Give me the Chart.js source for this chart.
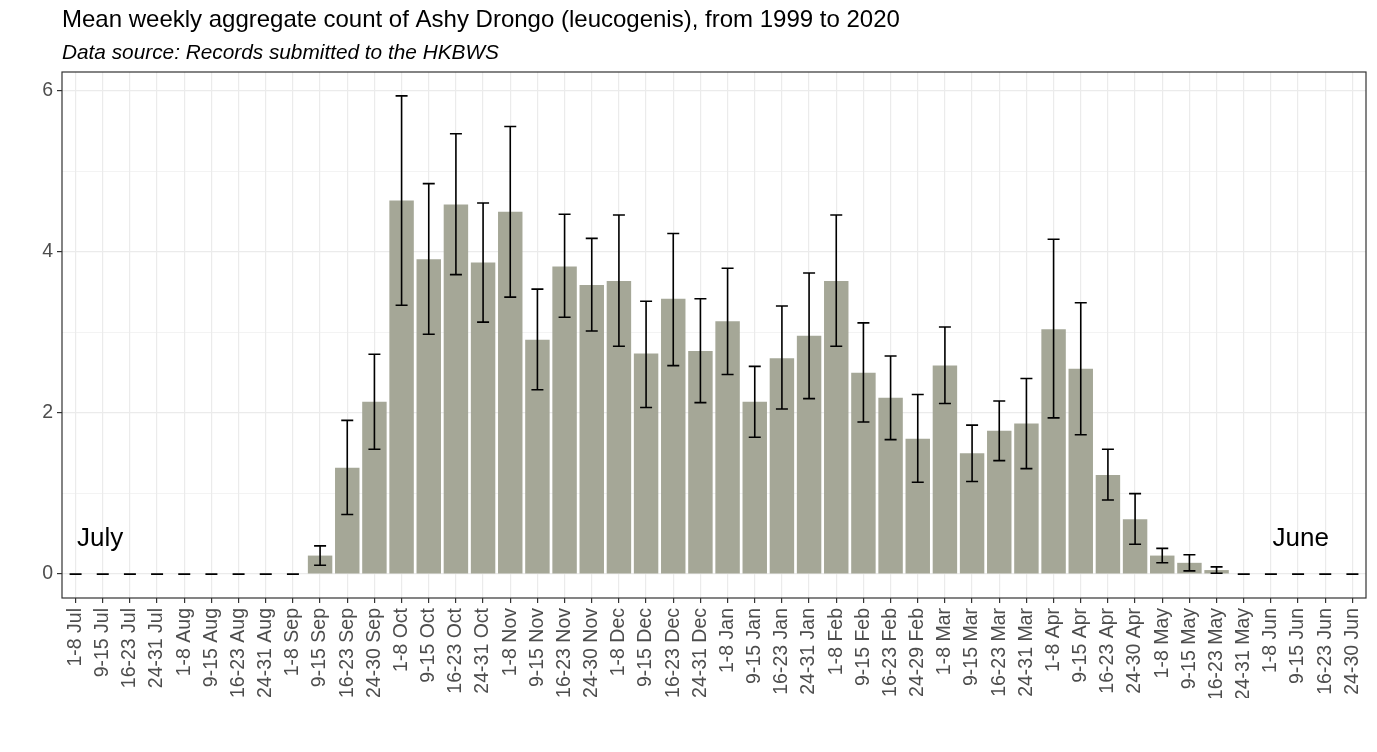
<!DOCTYPE html>
<html>
<head>
<meta charset="utf-8">
<script src="https://cdn.jsdelivr.net/npm/chart.js@4.4.1/dist/chart.umd.min.js"></script>
<style>
  html, body { margin: 0; padding: 0; background: #fff; }
  #wrap { width: 1377px; height: 752px; position: relative; }
</style>
</head>
<body>
<div id="wrap"><canvas id="myChart"></canvas></div>
<script>
// weekly periods, July to June
var weeks = ['1-8 Jul', '9-15 Jul', '16-23 Jul', '24-31 Jul',
    '1-8 Aug', '9-15 Aug', '16-23 Aug', '24-31 Aug',
    '1-8 Sep', '9-15 Sep', '16-23 Sep', '24-30 Sep',
    '1-8 Oct', '9-15 Oct', '16-23 Oct', '24-31 Oct',
    '1-8 Nov', '9-15 Nov', '16-23 Nov', '24-30 Nov',
    '1-8 Dec', '9-15 Dec', '16-23 Dec', '24-31 Dec',
    '1-8 Jan', '9-15 Jan', '16-23 Jan', '24-31 Jan',
    '1-8 Feb', '9-15 Feb', '16-23 Feb', '24-29 Feb',
    '1-8 Mar', '9-15 Mar', '16-23 Mar', '24-31 Mar',
    '1-8 Apr', '9-15 Apr', '16-23 Apr', '24-30 Apr',
    '1-8 May', '9-15 May', '16-23 May', '24-31 May',
    '1-8 Jun', '9-15 Jun', '16-23 Jun', '24-30 Jun'];

var meanCount = [0, 0, 0, 0, 0, 0, 0, 0,
    0, 0.23, 1.32, 2.14,
    4.64, 3.91, 4.59, 3.87,
    4.50, 2.91, 3.82, 3.59,
    3.64, 2.74, 3.42, 2.77,
    3.14, 2.14, 2.68, 2.96,
    3.64, 2.50, 2.19, 1.68,
    2.59, 1.50, 1.78, 1.87,
    3.04, 2.55, 1.23, 0.68,
    0.23, 0.14, 0.05, 0,
    0, 0, 0, 0];

var lowerErr = [0, 0, 0, 0, 0, 0, 0, 0,
    0, 0.11, 0.74, 1.55,
    3.34, 2.98, 3.72, 3.13,
    3.44, 2.29, 3.19, 3.02,
    2.83, 2.07, 2.59, 2.13,
    2.48, 1.70, 2.05, 2.18,
    2.83, 1.89, 1.67, 1.14,
    2.12, 1.15, 1.41, 1.31,
    1.94, 1.73, 0.92, 0.37,
    0.14, 0.04, 0.01, 0,
    0, 0, 0, 0];

var upperErr = [0, 0, 0, 0, 0, 0, 0, 0,
    0, 0.35, 1.91, 2.73,
    5.94, 4.85, 5.47, 4.61,
    5.56, 3.54, 4.47, 4.17,
    4.46, 3.39, 4.23, 3.42,
    3.80, 2.58, 3.33, 3.74,
    4.46, 3.12, 2.71, 2.23,
    3.07, 1.85, 2.15, 2.43,
    4.16, 3.37, 1.55, 1.00,
    0.32, 0.24, 0.09, 0,
    0, 0, 0, 0];

var yTicks = [0, 2, 4, 6];

var titleText = 'Mean weekly aggregate count of Ashy Drongo (leucogenis), from 1999 to 2020';
var subtitleText = 'Data source: Records submitted to the HKBWS';

var textColor = '#4d4d4d';
var fontFam = '"Liberation Sans", Arial, sans-serif';

// error bars, drawn from the data through the scales
var errorBars = {
    id: 'errorBars',
    afterDatasetsDraw: function (chart) {
        var ctx = chart.ctx;
        var xs = chart.scales.x, ys = chart.scales.y;
        ctx.save();
        ctx.strokeStyle = '#000';
        ctx.lineWidth = 1.6;
        for (var i = 0; i < weeks.length; i++) {
            var x = xs.getPixelForValue(i);
            var yl = ys.getPixelForValue(lowerErr[i]);
            var yh = ys.getPixelForValue(upperErr[i]);
            var cap = 6;
            ctx.beginPath();
            ctx.moveTo(x, yl); ctx.lineTo(x, yh);
            ctx.moveTo(x - cap, yl); ctx.lineTo(x + cap, yl);
            ctx.moveTo(x - cap, yh); ctx.lineTo(x + cap, yh);
            ctx.stroke();
        }
        // month labels
        ctx.fillStyle = '#000';
        ctx.font = '26px ' + fontFam;
        ctx.textAlign = 'center';
        ctx.textBaseline = 'middle';
        ctx.fillText('July', xs.getPixelForValue(0.9), ys.getPixelForValue(0.44));
        ctx.fillText('June', xs.getPixelForValue(45.1), ys.getPixelForValue(0.44));
        ctx.restore();
    }
};

// title, subtitle and panel border
var frame = {
    id: 'frame',
    afterDraw: function (chart) {
        var ctx = chart.ctx, a = chart.chartArea;
        ctx.save();
        ctx.strokeStyle = '#333';
        ctx.lineWidth = 1.2;
        ctx.strokeRect(a.left, a.top, a.right - a.left, a.bottom - a.top);
        ctx.fillStyle = '#000';
        ctx.textAlign = 'left';
        ctx.textBaseline = 'alphabetic';
        ctx.font = '24px ' + fontFam;
        ctx.fillText(titleText, a.left, 27);
        ctx.font = 'italic 20.8px ' + fontFam;
        ctx.fillText(subtitleText, a.left, 59);
        ctx.restore();
    }
};

var myChart;

function createChart() {
    var ctx = document.getElementById('myChart').getContext('2d');
    myChart = new Chart(ctx, {
        type: 'bar',
        data: {
            labels: weeks,
            datasets: [{
                data: meanCount,
                backgroundColor: '#a5a797',
                barPercentage: 0.9,
                categoryPercentage: 1.0
            }]
        },
        options: {
            responsive: true,
            maintainAspectRatio: false,
            animation: false,
            layout: { padding: { left: 0, right: 11, top: 72, bottom: 54 } },
            plugins: {
                legend: { display: false },
                tooltip: { enabled: false }
            },
            scales: {
                x: {
                    offset: true,
                    grid: {
                        offset: false,
                        color: '#ebebeb',
                        lineWidth: 1.2,
                        tickColor: '#333',
                        tickLength: 5,
                        drawOnChartArea: true
                    },
                    border: { display: false },
                    ticks: {
                        autoSkip: false,
                        maxRotation: 90,
                        minRotation: 90,
                        padding: 5,
                        color: textColor,
                        font: { family: fontFam, size: 19.5 }
                    },
                    afterFit: function (s) {
                        s.height = 100;
                        s.paddingLeft = 0;
                        s.paddingRight = 0;
                    }
                },
                y: {
                    min: -0.297,
                    max: 6.237,
                    grid: {
                        color: '#ebebeb',
                        lineWidth: function (c) {
                            return (c.tick && yTicks.indexOf(c.tick.value) >= 0) ? 1.2 : 0.6;
                        },
                        tickColor: function (c) {
                            return (c.tick && yTicks.indexOf(c.tick.value) >= 0) ? '#333' : 'rgba(0,0,0,0)';
                        },
                        tickLength: 5
                    },
                    border: { display: false },
                    ticks: {
                        stepSize: 1,
                        includeBounds: false,
                        padding: 4,
                        color: textColor,
                        font: { family: fontFam, size: 19.5 },
                        callback: function (v) {
                            return yTicks.indexOf(v) >= 0 ? String(v) : '';
                        }
                    },
                    afterFit: function (s) {
                        s.width = 62;
                        s.paddingTop = 0;
                        s.paddingBottom = 0;
                    }
                }
            }
        },
        plugins: [errorBars, frame]
    });
}

document.addEventListener('DOMContentLoaded', function () {
    createChart();
});
</script>
</body>
</html>
